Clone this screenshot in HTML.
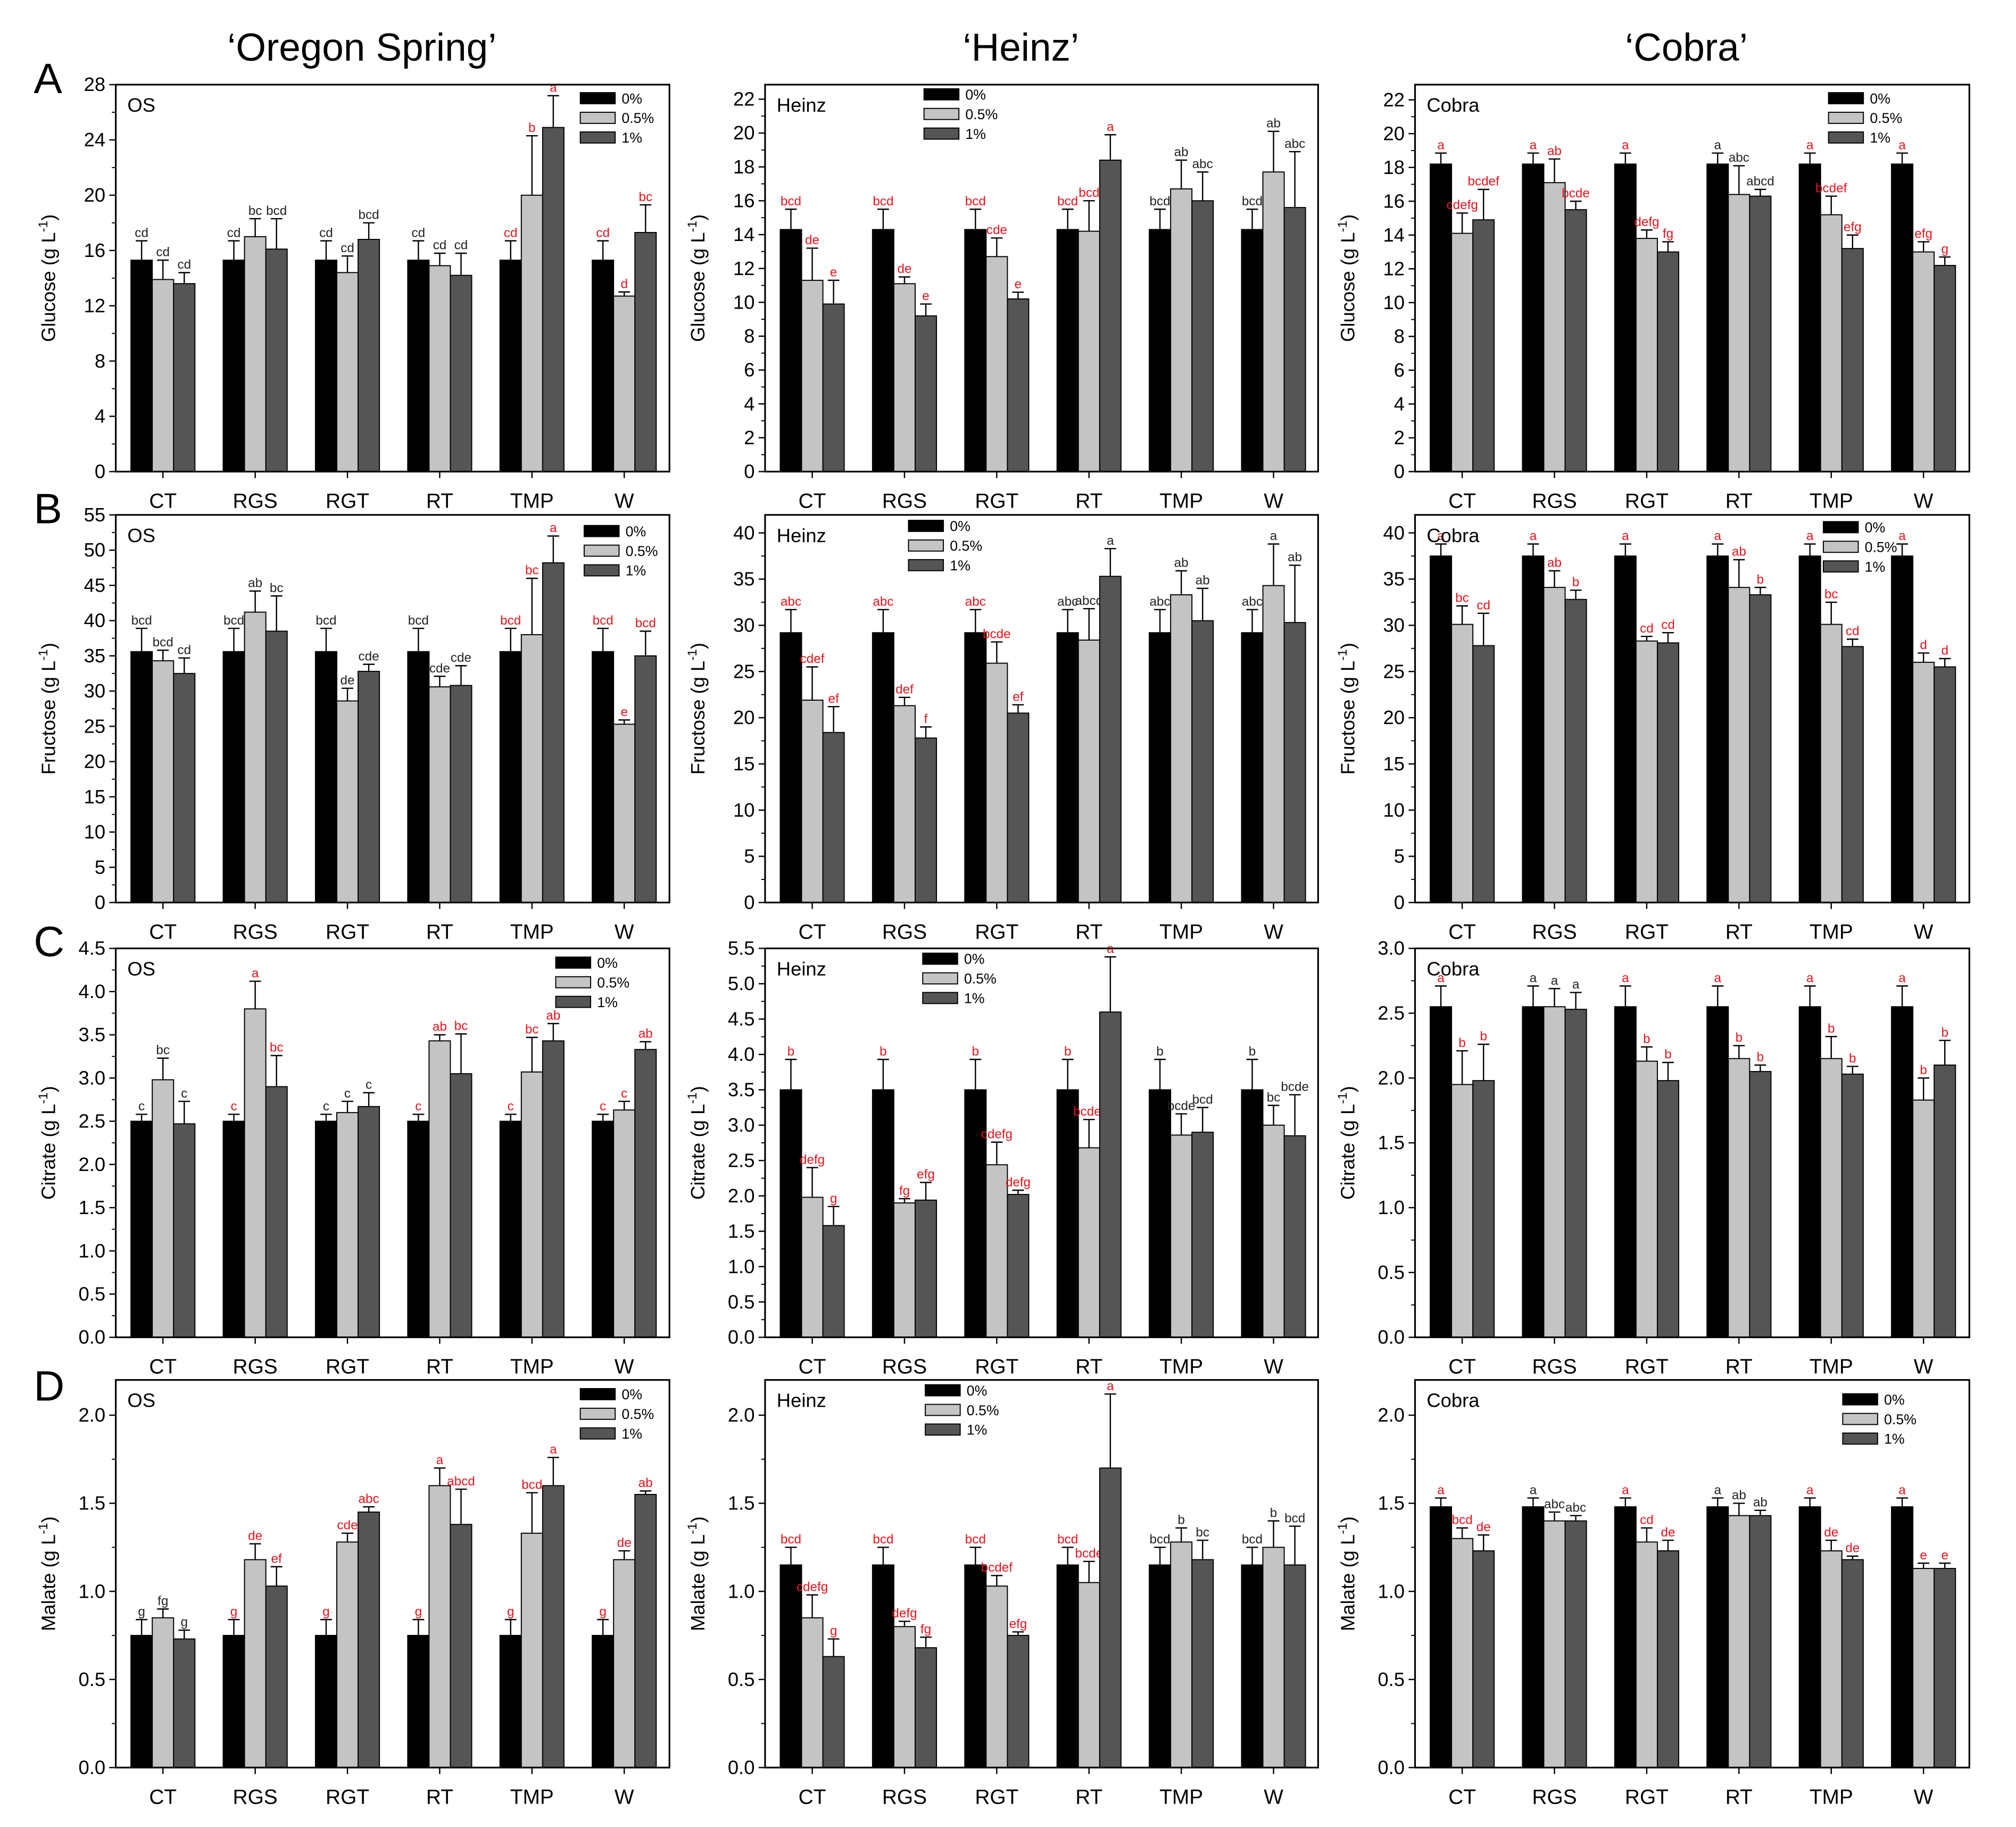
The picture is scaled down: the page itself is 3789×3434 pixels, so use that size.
<!DOCTYPE html>
<html><head><meta charset="utf-8"><title>Sugar and acid charts</title>
<style>html,body{margin:0;padding:0;background:#fff}svg{display:block}text{font-family:"Liberation Sans",Arial,sans-serif}</style>
</head><body>
<svg id="fig" xmlns="http://www.w3.org/2000/svg" width="3789" height="3434" viewBox="0 0 1560 1414">
<rect x="0" y="0" width="1560" height="1414" fill="#fff"/>
<text x="280" y="47" font-size="30" text-anchor="middle">‘Oregon Spring’</text>
<text x="790" y="47" font-size="30" text-anchor="middle">‘Heinz’</text>
<text x="1305" y="47" font-size="30" text-anchor="middle">‘Cobra’</text>
<text x="26" y="72" font-size="33">A</text>
<text x="26" y="405" font-size="33">B</text>
<text x="26" y="740" font-size="33">C</text>
<text x="26" y="1084" font-size="33">D</text>
</svg>
<script>
const categories=["CT","RGS","RGT","RT","TMP","W"];
const legendLabels=["0%","0.5%","1%"];
// Glucose
const osGlu0=[15.3,15.3,15.3,15.3,15.3,15.3], osGluE0=[1.4,1.4,1.4,1.4,1.4,1.4];
const osGlu05=[13.9,17.0,14.4,14.9,20.0,12.7], osGluE05=[1.4,1.3,1.2,0.9,4.3,0.3];
const osGlu1=[13.6,16.1,16.8,14.2,24.9,17.3], osGluE1=[0.8,2.2,1.2,1.6,2.3,2.0];
const osGluL0=["cd","cd","cd","cd","cd*","cd*"], osGluL05=["cd","bc","cd","cd","b*","d*"], osGluL1=["cd","bcd","bcd","cd","a*","bc*"];
const heGlu0=[14.3,14.3,14.3,14.3,14.3,14.3], heGluE0=[1.2,1.2,1.2,1.2,1.2,1.2];
const heGlu05=[11.3,11.1,12.7,14.2,16.7,17.7], heGluE05=[1.9,0.4,1.1,1.8,1.7,2.4];
const heGlu1=[9.9,9.2,10.2,18.4,16.0,15.6], heGluE1=[1.4,0.7,0.4,1.5,1.7,3.3];
const heGluL0=["bcd*","bcd*","bcd*","bcd*","bcd","bcd"], heGluL05=["de*","de*","cde*","bcd*","ab","ab"], heGluL1=["e*","e*","e*","a*","abc","abc"];
const coGlu0=[18.2,18.2,18.2,18.2,18.2,18.2], coGluE0=[0.65,0.65,0.65,0.65,0.65,0.65];
const coGlu05=[14.1,17.1,13.8,16.4,15.2,13.0], coGluE05=[1.2,1.4,0.5,1.7,1.1,0.6];
const coGlu1=[14.9,15.5,13.0,16.3,13.2,12.2], coGluE1=[1.8,0.5,0.6,0.4,0.8,0.5];
const coGluL0=["a*","a*","a*","a","a*","a*"], coGluL05=["cdefg*","ab*","defg*","abc","bcdef*","efg*"], coGluL1=["bcdef*","bcde*","fg*","abcd","efg*","g*"];
// Fructose
const osFru0=[35.6,35.6,35.6,35.6,35.6,35.6], osFruE0=[3.3,3.3,3.3,3.3,3.3,3.3];
const osFru05=[34.3,41.2,28.6,30.6,38.0,25.3], osFruE05=[1.5,3.0,1.8,1.5,8.0,0.6];
const osFru1=[32.5,38.5,32.8,30.8,48.2,35.0], osFruE1=[2.2,5.0,1.0,2.8,3.8,3.5];
const osFruL0=["bcd","bcd","bcd","bcd","bcd*","bcd*"], osFruL05=["bcd","ab","de","cde","bc*","e*"], osFruL1=["cd","bc","cde","cde","a*","bcd*"];
const heFru0=[29.2,29.2,29.2,29.2,29.2,29.2], heFruE0=[2.5,2.5,2.5,2.5,2.5,2.5];
const heFru05=[21.9,21.3,25.9,28.4,33.3,34.3], heFruE05=[3.6,0.9,2.3,3.4,2.6,4.5];
const heFru1=[18.4,17.8,20.5,35.3,30.5,30.3], heFruE1=[2.8,1.2,0.9,3.0,3.5,6.2];
const heFruL0=["abc*","abc*","abc*","abc","abc","abc"], heFruL05=["cdef*","def*","bcde*","abcd","ab","a"], heFruL1=["ef*","f*","ef*","a","ab","ab"];
const coFru0=[37.5,37.5,37.5,37.5,37.5,37.5], coFruE0=[1.3,1.3,1.3,1.3,1.3,1.3];
const coFru05=[30.1,34.1,28.3,34.1,30.1,26.0], coFruE05=[2.0,1.8,0.5,3.0,2.4,1.0];
const coFru1=[27.8,32.8,28.1,33.3,27.7,25.5], coFruE1=[3.5,1.0,1.1,0.8,0.8,0.9];
const coFruL0=["a*","a*","a*","a*","a*","a*"], coFruL05=["bc*","ab*","cd*","ab*","bc*","d*"], coFruL1=["cd*","b*","cd*","b*","cd*","d*"];
// Citrate
const osCit0=[2.5,2.5,2.5,2.5,2.5,2.5], osCitE0=[0.08,0.08,0.08,0.08,0.08,0.08];
const osCit05=[2.98,3.8,2.6,3.43,3.07,2.63], osCitE05=[0.25,0.32,0.13,0.07,0.4,0.1];
const osCit1=[2.47,2.9,2.67,3.05,3.43,3.33], osCitE1=[0.26,0.36,0.16,0.46,0.2,0.09];
const osCitL0=["c","c*","c","c*","c*","c*"], osCitL05=["bc","a*","c","ab*","bc*","c*"], osCitL1=["c","bc*","c","bc*","ab*","ab*"];
const heCit0=[3.5,3.5,3.5,3.5,3.5,3.5], heCitE0=[0.43,0.43,0.43,0.43,0.43,0.43];
const heCit05=[1.98,1.9,2.44,2.68,2.86,3.0], heCitE05=[0.42,0.06,0.32,0.4,0.3,0.28];
const heCit1=[1.58,1.94,2.02,4.6,2.9,2.85], heCitE1=[0.27,0.25,0.06,0.78,0.35,0.58];
const heCitL0=["b*","b*","b*","b*","b","b"], heCitL05=["defg*","fg*","cdefg*","bcdef*","bcde","bc"], heCitL1=["g*","efg*","defg*","a*","bcd","bcde"];
const coCit0=[2.55,2.55,2.55,2.55,2.55,2.55], coCitE0=[0.16,0.16,0.16,0.16,0.16,0.16];
const coCit05=[1.95,2.55,2.13,2.15,2.15,1.83], coCitE05=[0.26,0.14,0.11,0.1,0.17,0.17];
const coCit1=[1.98,2.53,1.98,2.05,2.03,2.1], coCitE1=[0.28,0.13,0.14,0.05,0.06,0.19];
const coCitL0=["a*","a","a*","a*","a*","a*"], coCitL05=["b*","a","b*","b*","b*","b*"], coCitL1=["b*","a","b*","b*","b*","b*"];
// Malate
const osMal0=[0.75,0.75,0.75,0.75,0.75,0.75], osMalE0=[0.09,0.09,0.09,0.09,0.09,0.09];
const osMal05=[0.85,1.18,1.28,1.6,1.33,1.18], osMalE05=[0.05,0.09,0.05,0.1,0.23,0.05];
const osMal1=[0.73,1.03,1.45,1.38,1.6,1.55], osMalE1=[0.05,0.11,0.03,0.2,0.16,0.02];
const osMalL0=["g","g*","g*","g*","g*","g*"], osMalL05=["fg","de*","cde*","a*","bcd*","de*"], osMalL1=["g","ef*","abc*","abcd*","a*","ab*"];
const heMal0=[1.15,1.15,1.15,1.15,1.15,1.15], heMalE0=[0.1,0.1,0.1,0.1,0.1,0.1];
const heMal05=[0.85,0.8,1.03,1.05,1.28,1.25], heMalE05=[0.13,0.03,0.06,0.12,0.08,0.15];
const heMal1=[0.63,0.68,0.75,1.7,1.18,1.15], heMalE1=[0.1,0.06,0.02,0.42,0.11,0.22];
const heMalL0=["bcd*","bcd*","bcd*","bcd*","bcd","bcd"], heMalL05=["cdefg*","defg*","bcdef*","bcde*","b","b"], heMalL1=["g*","fg*","efg*","a*","bc","bcd"];
const coMal0=[1.48,1.48,1.48,1.48,1.48,1.48], coMalE0=[0.05,0.05,0.05,0.05,0.05,0.05];
const coMal05=[1.3,1.4,1.28,1.43,1.23,1.13], coMalE05=[0.06,0.05,0.08,0.07,0.06,0.03];
const coMal1=[1.23,1.4,1.23,1.43,1.18,1.13], coMalE1=[0.09,0.03,0.06,0.03,0.02,0.03];
const coMalL0=["a*","a","a*","a","a*","a*"], coMalL05=["bcd*","abc","cd*","ab","de*","e*"], coMalL1=["de*","abc","de*","ab","de*","e*"];

const NS="http://www.w3.org/2000/svg";
const svg=document.getElementById('fig');
const COLS=[[89.5,518],[592,1020],[1095,1524]];
const ROWS=[[65.5,365],[398.5,698.5],[734,1035],[1068,1368]];
const FILLS=["#000","#c4c4c4","#555"];
function mk(tag,attrs,parent){const e=document.createElementNS(NS,tag);for(const k in attrs)e.setAttribute(k,attrs[k]);(parent||svg).appendChild(e);return e;}

const panels=[
 {id:"os-glucose",c:0,r:0,max:28,step:4,dec:0,name:"OS",title:"Glucose",v:[osGlu0,osGlu05,osGlu1],e:[osGluE0,osGluE05,osGluE1],l:[osGluL0,osGluL05,osGluL1],leg:[449,76]},
 {id:"heinz-glucose",c:1,r:0,max:22.86,step:2,dec:0,name:"Heinz",title:"Glucose",v:[heGlu0,heGlu05,heGlu1],e:[heGluE0,heGluE05,heGluE1],l:[heGluL0,heGluL05,heGluL1],leg:[715,73]},
 {id:"cobra-glucose",c:2,r:0,max:22.9,step:2,dec:0,name:"Cobra",title:"Glucose",v:[coGlu0,coGlu05,coGlu1],e:[coGluE0,coGluE05,coGluE1],l:[coGluL0,coGluL05,coGluL1],leg:[1415,76]},
 {id:"os-fructose",c:0,r:1,max:55,step:5,dec:0,name:"OS",title:"Fructose",v:[osFru0,osFru05,osFru1],e:[osFruE0,osFruE05,osFruE1],l:[osFruL0,osFruL05,osFruL1],leg:[452,411]},
 {id:"heinz-fructose",c:1,r:1,max:41.95,step:5,dec:0,name:"Heinz",title:"Fructose",v:[heFru0,heFru05,heFru1],e:[heFruE0,heFruE05,heFruE1],l:[heFruL0,heFruL05,heFruL1],leg:[703,407]},
 {id:"cobra-fructose",c:2,r:1,max:41.95,step:5,dec:0,name:"Cobra",title:"Fructose",v:[coFru0,coFru05,coFru1],e:[coFruE0,coFruE05,coFruE1],l:[coFruL0,coFruL05,coFruL1],leg:[1411,408]},
 {id:"os-citrate",c:0,r:2,max:4.5,step:0.5,dec:1,name:"OS",title:"Citrate",v:[osCit0,osCit05,osCit1],e:[osCitE0,osCitE05,osCitE1],l:[osCitL0,osCitL05,osCitL1],leg:[430,745]},
 {id:"heinz-citrate",c:1,r:2,max:5.5,step:0.5,dec:1,name:"Heinz",title:"Citrate",v:[heCit0,heCit05,heCit1],e:[heCitE0,heCitE05,heCitE1],l:[heCitL0,heCitL05,heCitL1],leg:[714,742]},
 {id:"cobra-citrate",c:2,r:2,max:3.0,step:0.5,dec:1,name:"Cobra",title:"Citrate",v:[coCit0,coCit05,coCit1],e:[coCitE0,coCitE05,coCitE1],l:[coCitL0,coCitL05,coCitL1],leg:null},
 {id:"os-malate",c:0,r:3,max:2.2,step:0.5,dec:1,name:"OS",title:"Malate",v:[osMal0,osMal05,osMal1],e:[osMalE0,osMalE05,osMalE1],l:[osMalL0,osMalL05,osMalL1],leg:[449,1079]},
 {id:"heinz-malate",c:1,r:3,max:2.2,step:0.5,dec:1,name:"Heinz",title:"Malate",v:[heMal0,heMal05,heMal1],e:[heMalE0,heMalE05,heMalE1],l:[heMalL0,heMalL05,heMalL1],leg:[716,1076]},
 {id:"cobra-malate",c:2,r:3,max:2.2,step:0.5,dec:1,name:"Cobra",title:"Malate",v:[coMal0,coMal05,coMal1],e:[coMalE0,coMalE05,coMalE1],l:[coMalL0,coMalL05,coMalL1],leg:[1426,1083]}
];

panels.forEach(p=>{
 const L=COLS[p.c][0],R=COLS[p.c][1],T=ROWS[p.r][0],B=ROWS[p.r][1];
 const g=mk('g',{});
 
 
 const y=v=>B-v/p.max*(B-T);
 const xc=i=>L+36.5+i*71.4;
 // y axis ticks
 const ax=mk('g',{},g);
 
 
 for(let k=0;k*p.step<=p.max+1e-9;k++){
  const v=k*p.step;const yy=y(v);
  mk('line',{x1:L-5,y1:yy,x2:L,y2:yy,stroke:'#000','stroke-width':1},ax);
  const t=mk('text',{x:L-8,y:yy+5,'font-size':15,'text-anchor':'end'},ax);
  t.textContent=v.toFixed(p.dec);
  
  
  const hv=v+p.step/2;
  if(hv<=p.max)mk('line',{x1:L-3,y1:y(hv),x2:L,y2:y(hv),stroke:'#000','stroke-width':0.8},ax);
 }
 // y title
 const yt=mk('text',{x:0,y:0,'font-size':15,'text-anchor':'middle',transform:`translate(${L-47},${(T+B)/2}) rotate(-90)`},g);
 
 
 yt.innerHTML=p.title+' (g L<tspan dy="-6" font-size="10">-1</tspan><tspan dy="6">)</tspan>';
 // bars
 for(let s=0;s<3;s++){
  for(let i=0;i<categories.length;i++){
   const v=p.v[s][i],e=p.e[s][i];
   const cx=xc(i)+(s-1)*16.5;
   const bar=mk('rect',{x:cx-8.25,y:y(v),width:16.5,height:B-y(v),fill:FILLS[s],stroke:'#000','stroke-width':0.8},g);
   
   
   const ye=y(v+e);
   mk('line',{x1:cx,y1:y(v),x2:cx,y2:ye,stroke:'#000','stroke-width':1},g);
   mk('line',{x1:cx-4.5,y1:ye,x2:cx+4.5,y2:ye,stroke:'#000','stroke-width':1},g);
   let lab=p.l[s][i];const red=lab.endsWith('*');if(red)lab=lab.slice(0,-1);
   const lt=mk('text',{x:cx,y:ye-3,'font-size':10,'text-anchor':'middle',fill:red?'#e8141b':'#222'},g);
   lt.textContent=lab;
   
   
  }
 }
 // frame
 const fr=mk('rect',{x:L,y:T,width:R-L,height:B-T,fill:'none',stroke:'#000','stroke-width':1.3},g);
 
 
 // x ticks & labels
 for(let i=0;i<categories.length;i++){
  mk('line',{x1:xc(i),y1:B,x2:xc(i),y2:B+5,stroke:'#000','stroke-width':1},g);
  const ct=mk('text',{x:xc(i),y:B+28,'font-size':16,'text-anchor':'middle'},g);
  ct.textContent=categories[i];
  
  
 }
 const nm=mk('text',{x:L+9,y:T+21,'font-size':15},g);
 nm.textContent=p.name;
 
 
 if(p.leg){
  const lg=mk('g',{},g);
  
  
  for(let s=0;s<3;s++){
   const ly=p.leg[1]+s*15.2;
   mk('rect',{x:p.leg[0],y:ly-4.3,width:27,height:8.6,fill:FILLS[s],stroke:'#000','stroke-width':0.8},lg);
   const tt=mk('text',{x:p.leg[0]+32,y:ly+4,'font-size':11},lg);
   tt.textContent=legendLabels[s];
   
   
  }
 }
});
</script>
</body></html>
